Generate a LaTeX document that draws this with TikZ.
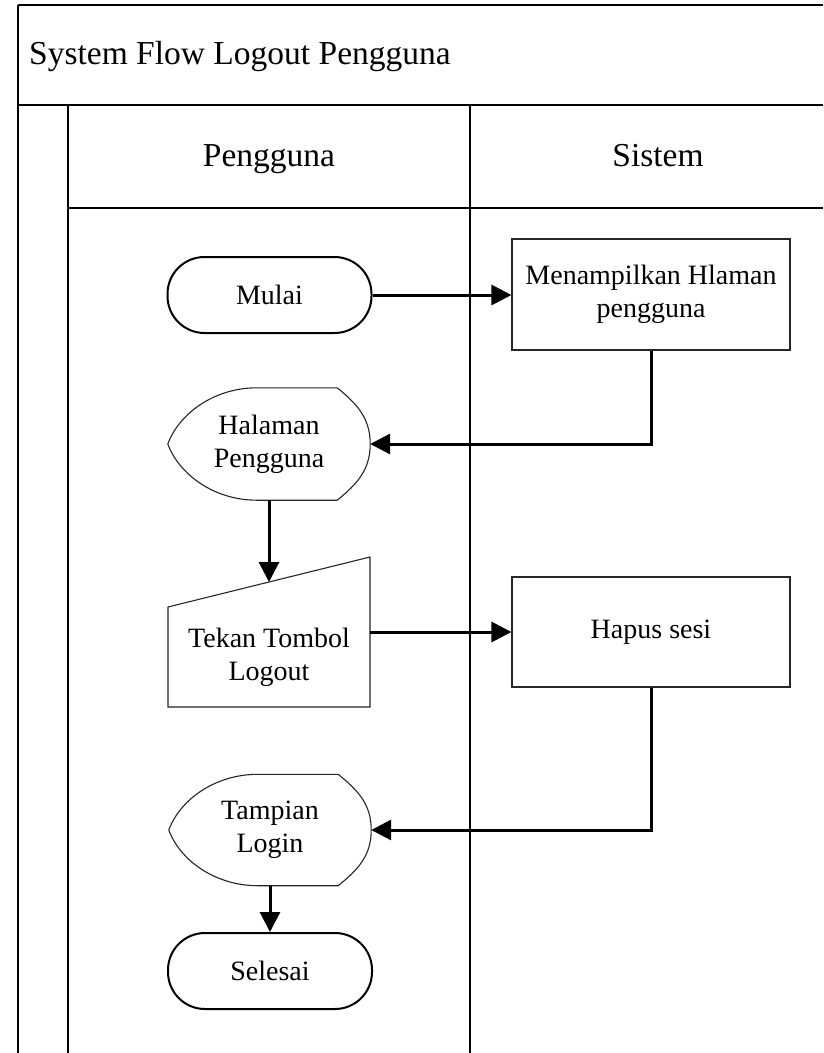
\documentclass[tikz,border=0pt]{standalone}
\usepackage{fontspec}
\setmainfont{Liberation Serif}
\usetikzlibrary{arrows.meta,calc}
\newcommand\mynodefont{\fontsize{28}{33}\selectfont}
\newcommand\myheadfont{\fontsize{33.5}{40}\selectfont}
\begin{document}
\begin{tikzpicture}[x=1pt,y=-1pt,
  frameline/.style={line width=2.8pt, black},
  conn/.style={line width=3pt, -{Triangle[length=20pt,width=20pt]}},
  terminal/.style={draw, line width=2pt, rounded corners=37pt, minimum width=204pt, minimum height=76pt, inner sep=0pt, font=\mynodefont, align=center},
  procbox/.style={draw=black!85, line width=1.1pt, minimum width=278pt, minimum height=111pt, inner sep=0pt, font=\mynodefont, align=center},
  shapeline/.style={draw=black!85, line width=1.1pt},
  textonly/.style={inner sep=0pt, font=\mynodefont, align=center, minimum width=202pt},
  headtext/.style={inner sep=0pt, font=\myheadfont, anchor=base}
]
\useasboundingbox (0,0) rectangle (823,1053);
\fill[white] (0,0) rectangle (823,1053);

% frame
\draw[frameline] (18,5) -- (823,5);
\draw[frameline] (18,5) -- (18,1053);
\draw[frameline] (18,105) -- (823,105);
\draw[frameline] (68,105) -- (68,1053);
\draw[frameline] (470,105) -- (470,1053);
\draw[frameline] (68,208) -- (823,208);

% headers
\node[headtext, anchor=base west] (title) at (29,64) {System Flow Logout Pengguna};
\node[headtext] (lane1) at (269,166) {Pengguna};
\node[headtext] (lane2) at (658,166) {Sistem};

% nodes
\node[terminal] (mulai) at (269.5,295) {Mulai};
\node[procbox] (menam) at (651,294.5) {Menampilkan Hlaman\\pengguna};

\node[textonly, minimum height=112pt] (hal) at (269,444) {Halaman\\Pengguna};
\draw[shapeline] (hal.west) .. controls +(11,-30) and +(-43,0) .. ($(hal.north west)+(89,0)$)
  -- ($(hal.north east)+(-33,0)$) .. controls +(21,17) and +(0,-25) .. (hal.east)
  .. controls +(0,25) and +(21,-17) .. ($(hal.south east)+(-33,0)$)
  -- ($(hal.south west)+(89,0)$) .. controls +(-43,0) and +(11,30) .. (hal.west) -- cycle;

\node[textonly] (tekan) at (269,657) {Tekan Tombol\\Logout};
\draw[shapeline] (168,607) -- (370,557) -- (370,707) -- (168,707) -- cycle;
\coordinate (tekantop) at (269,582);

\node[procbox, minimum height=110pt] (hapus) at (651,632) {Hapus sesi};

\node[textonly, minimum height=111pt] (tamp) at (270,830) {Tampian\\Login};
\draw[shapeline] (tamp.west) .. controls +(11,-30) and +(-43,0) .. ($(tamp.north west)+(89,0)$)
  -- ($(tamp.north east)+(-33,0)$) .. controls +(21,17) and +(0,-25) .. (tamp.east)
  .. controls +(0,25) and +(21,-17) .. ($(tamp.south east)+(-33,0)$)
  -- ($(tamp.south west)+(89,0)$) .. controls +(-43,0) and +(11,30) .. (tamp.west) -- cycle;

\node[terminal] (selesai) at (270,971) {Selesai};

% connectors
\draw[conn] (mulai.east) -- (mulai.east -| menam.west);
\draw[conn] (menam.south) |- (hal.east);
\draw[conn] (hal.south) -- (tekantop);
\draw[conn] (hapus.west -| tekan.east) -- (hapus.west);
\draw[conn] (hapus.south) |- (tamp.east);
\draw[conn] (tamp.south) -- (selesai.north);
\end{tikzpicture}
\end{document}
